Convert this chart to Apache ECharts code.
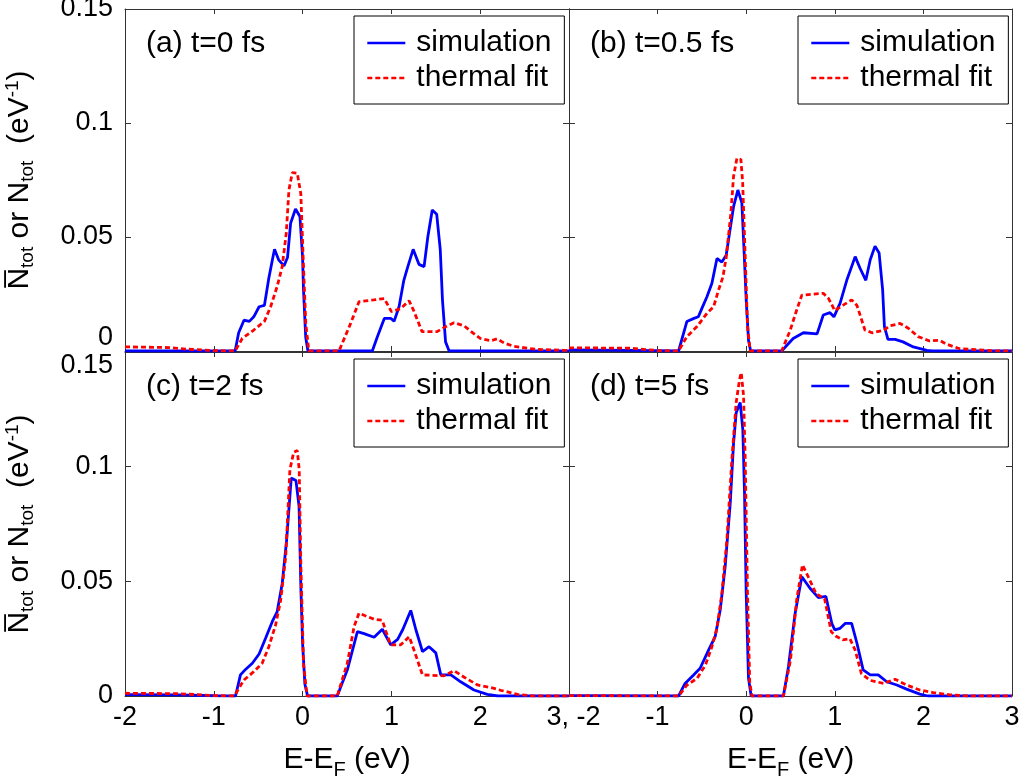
<!DOCTYPE html>
<html>
<head>
<meta charset="utf-8">
<script src="https://cdn.jsdelivr.net/npm/echarts@6/dist/echarts.min.js"></script>
<style>
html, body { margin: 0; padding: 0; background: #fff; }
#chart { width: 1020px; height: 780px; }
</style>
</head>
<body>
<div id="chart"></div>
<script>
// 数据: [E-EF (eV), N (eV^-1)]
var panelTitles = ['(a) t=0 fs', '(b) t=0.5 fs', '(c) t=2 fs', '(d) t=5 fs'];
var seriesNames = ['simulation', 'thermal fit'];
var xTicks = [-2, -1, 0, 1, 2, 3];
var yTicks = [0, 0.05, 0.1, 0.15];

var simA = [[-2,0],[-0.76,0],[-0.72,0.008],[-0.66,0.0135],[-0.6,0.013],[-0.55,0.015],[-0.49,0.0194],[-0.43,0.02],[-0.38,0.032],[-0.34,0.04],[-0.316,0.0446],[-0.27,0.04],[-0.21,0.0373],[-0.17,0.041],[-0.135,0.056],[-0.08,0.0623],[-0.03,0.059],[0.0,0.041],[0.01,0.027],[0.035,0.006],[0.06,0],[0.785,0],[0.84,0.006],[0.92,0.0143],[0.995,0.0143],[1.03,0.013],[1.086,0.0194],[1.14,0.031],[1.185,0.037],[1.245,0.0446],[1.31,0.038],[1.368,0.037],[1.41,0.05],[1.46,0.0618],[1.51,0.06],[1.55,0.0446],[1.575,0.0224],[1.61,0.004],[1.65,0],[3,0]];
var fitA = [[-2,0.0018],[-1.5,0.0015],[-1.3,0.0008],[-1.0,0.0002],[-0.76,0],[-0.68,0.0055],[-0.55,0.0092],[-0.43,0.013],[-0.36,0.0194],[-0.285,0.0285],[-0.23,0.037],[-0.184,0.0516],[-0.154,0.0706],[-0.116,0.0782],[-0.06,0.078],[-0.02,0.069],[0.01,0.037],[0.036,0.012],[0.07,0],[0.41,0],[0.54,0.012],[0.635,0.0216],[0.80,0.0224],[0.92,0.023],[1.0,0.0173],[1.1,0.0185],[1.2,0.022],[1.25,0.0178],[1.345,0.0085],[1.515,0.0085],[1.61,0.0107],[1.705,0.0124],[1.82,0.011],[1.89,0.0088],[2.0,0.0055],[2.12,0.0045],[2.19,0.0053],[2.27,0.0035],[2.38,0.002],[2.64,0.0007],[2.94,0.0003],[3,0.0002]];

var simB = [[-2,0.0005],[-1.3,0.0003],[-0.763,0],[-0.67,0.0129],[-0.59,0.0143],[-0.54,0.015],[-0.5,0.0187],[-0.443,0.0238],[-0.387,0.0297],[-0.33,0.0406],[-0.275,0.039],[-0.226,0.042],[-0.18,0.0538],[-0.143,0.0633],[-0.094,0.0706],[-0.049,0.065],[-0.023,0.043],[0.0,0.0225],[0.026,0.0047],[0.05,0],[0.40,0],[0.53,0.0055],[0.646,0.008],[0.80,0.0075],[0.87,0.0158],[0.946,0.0168],[0.99,0.015],[1.06,0.021],[1.135,0.031],[1.23,0.0414],[1.285,0.0363],[1.35,0.031],[1.40,0.040],[1.454,0.046],[1.50,0.043],[1.54,0.0268],[1.56,0.0107],[1.60,0.0051],[1.68,0.0051],[1.77,0.004],[1.886,0.0018],[2.04,0.0003],[2.1,0],[3,0]];
var fitB = [[-2,0.0014],[-1.3,0.0012],[-1.0,0.0002],[-0.763,0],[-0.67,0.0063],[-0.556,0.0107],[-0.443,0.0165],[-0.368,0.0194],[-0.31,0.027],[-0.263,0.0324],[-0.226,0.041],[-0.173,0.0604],[-0.143,0.0765],[-0.105,0.0845],[-0.06,0.084],[-0.04,0.074],[-0.011,0.041],[0.015,0.011],[0.045,0],[0.40,0],[0.496,0.009],[0.57,0.018],[0.628,0.0245],[0.87,0.0253],[0.93,0.023],[1.0,0.0177],[1.09,0.020],[1.19,0.0224],[1.25,0.020],[1.34,0.0092],[1.42,0.008],[1.55,0.009],[1.62,0.011],[1.736,0.0121],[1.83,0.01],[1.94,0.0063],[2.07,0.0044],[2.18,0.0047],[2.26,0.003],[2.41,0.001],[2.78,0.0001],[3,0]];

var simC = [[-2,0.0006],[-1.4,0.0005],[-1.0,0.0001],[-0.755,0],[-0.70,0.0092],[-0.64,0.0117],[-0.566,0.0143],[-0.49,0.0183],[-0.417,0.0252],[-0.342,0.0324],[-0.286,0.0368],[-0.229,0.0492],[-0.18,0.068],[-0.128,0.095],[-0.075,0.094],[-0.04,0.0827],[-0.019,0.0463],[0.0,0.023],[0.026,0.0051],[0.056,0],[0.39,0],[0.504,0.0114],[0.617,0.0281],[0.692,0.0272],[0.805,0.0256],[0.898,0.0291],[0.992,0.0223],[1.07,0.0247],[1.13,0.0291],[1.218,0.0373],[1.275,0.029],[1.35,0.0194],[1.424,0.0215],[1.50,0.0188],[1.556,0.0092],[1.67,0.0092],[1.78,0.0062],[1.93,0.0026],[2.08,0.0007],[2.2,0],[3,0]];
var fitC = [[-2,0.0012],[-1.4,0.001],[-1.0,0.0002],[-0.77,0],[-0.66,0.007],[-0.55,0.0106],[-0.455,0.0143],[-0.38,0.0215],[-0.304,0.031],[-0.248,0.0415],[-0.19,0.0608],[-0.143,0.0987],[-0.10,0.1063],[-0.06,0.107],[-0.038,0.0987],[-0.02,0.058],[0.01,0.014],[0.05,0],[0.39,0],[0.504,0.0143],[0.58,0.0303],[0.635,0.0361],[0.73,0.0346],[0.805,0.0335],[0.898,0.033],[0.935,0.0285],[0.992,0.0223],[1.105,0.0223],[1.2,0.0259],[1.255,0.020],[1.35,0.0092],[1.59,0.0088],[1.706,0.011],[1.82,0.0082],[1.97,0.0048],[2.12,0.0037],[2.23,0.0025],[2.42,0.0007],[2.6,0],[3,0]];

var simD = [[-2,0.0002],[-0.763,0],[-0.69,0.0055],[-0.594,0.0092],[-0.52,0.0121],[-0.425,0.020],[-0.35,0.0259],[-0.293,0.0376],[-0.237,0.0565],[-0.18,0.0841],[-0.143,0.110],[-0.113,0.1235],[-0.068,0.128],[-0.038,0.116],[-0.019,0.0885],[0.0,0.0448],[0.026,0.0077],[0.056,0],[0.42,0],[0.477,0.0128],[0.552,0.036],[0.628,0.052],[0.72,0.047],[0.815,0.0429],[0.9,0.0434],[0.966,0.0317],[1.0,0.0288],[1.06,0.0295],[1.12,0.0317],[1.19,0.0317],[1.25,0.023],[1.32,0.0114],[1.40,0.0092],[1.49,0.0092],[1.586,0.0062],[1.70,0.0048],[1.81,0.003],[1.96,0.0008],[2.05,0],[3,0]];
var fitD = [[-2,0.0002],[-0.763,0],[-0.67,0.0047],[-0.555,0.0077],[-0.46,0.0135],[-0.387,0.0215],[-0.33,0.0295],[-0.274,0.0448],[-0.218,0.068],[-0.162,0.103],[-0.113,0.128],[-0.075,0.138],[-0.056,0.141],[-0.03,0.131],[-0.011,0.103],[0.015,0.0448],[0.04,0.006],[0.065,0],[0.42,0],[0.50,0.0157],[0.57,0.042],[0.635,0.0572],[0.70,0.052],[0.79,0.0445],[0.885,0.0424],[0.96,0.028],[1.02,0.0259],[1.09,0.0245],[1.17,0.025],[1.23,0.020],[1.30,0.0098],[1.40,0.0068],[1.55,0.0055],[1.68,0.0073],[1.81,0.0048],[1.96,0.0026],[2.11,0.0015],[2.3,0.0005],[2.5,0],[3,0]];

var simData = [simA, simB, simC, simD];
var fitData = [fitA, fitB, fitC, fitD];

(function(){

var chart = echarts.init(document.getElementById('chart'));
var FONT = '"Liberation Sans", Arial, sans-serif';
var frame = '#333';

// 网格位置 (outerBoundsMode none: 不因轴名称缩小网格)
var grids = [
    {left: 125, top: 9, width: 444, height: 342, outerBoundsMode: 'none'},
    {left: 569, top: 9, width: 443, height: 342, outerBoundsMode: 'none'},
    {left: 125, top: 352, width: 444, height: 344, outerBoundsMode: 'none'},
    {left: 569, top: 352, width: 443, height: 344, outerBoundsMode: 'none'}
];

var yName = '{n|N\u0305}{s|tot}{n| or N}{s|tot}{n|  (eV}{p|-1}{n|)}';
var xName = '{n|E-E}{f|F}{n| (eV)}';
var nameRich = {
    n: {fontSize: 30, lineHeight: 34, fontFamily: FONT, color: '#000'},
    s: {fontSize: 19, lineHeight: 19, fontFamily: FONT, color: '#000', verticalAlign: 'bottom'},
    f: {fontSize: 20, lineHeight: 20, fontFamily: FONT, color: '#000', verticalAlign: 'bottom', padding: [0, 0, -3, 0]},
    p: {fontSize: 19, lineHeight: 19, fontFamily: FONT, color: '#000', verticalAlign: 'top'}
};

var xAxes = [], yAxes = [], series = [], legends = [], texts = [];

grids.forEach(function(g, i){
    var bottomRow = i >= 2;
    var leftCol = (i % 2) === 0;

    xAxes.push({
        type: 'value', gridIndex: i, position: 'bottom',
        min: xTicks[0], max: xTicks[xTicks.length - 1], interval: 1,
        axisLine: {show: true, onZero: false, lineStyle: {color: frame, width: 1}},
        axisTick: {show: true, inside: true, length: 5, lineStyle: {color: frame}},
        splitLine: {show: false},
        axisLabel: {
            show: bottomRow, fontSize: 27, fontFamily: FONT, color: '#000', margin: 8,
            alignMinLabel: leftCol ? 'center' : 'left',
            alignMaxLabel: leftCol ? 'right' : 'center',
            formatter: function(v){
                if (leftCol && v === 3) return '3,';
                if (!leftCol && v === -2) return ' -2';
                return String(v);
            }
        },
        name: bottomRow ? xName : '',
        nameLocation: 'middle', nameGap: 47,
        nameTextStyle: {rich: nameRich}
    });
    xAxes.push({
        type: 'value', gridIndex: i, position: 'top',
        min: xTicks[0], max: xTicks[xTicks.length - 1], interval: 1,
        axisLine: {show: true, onZero: false, lineStyle: {color: frame, width: 1}},
        axisTick: {show: true, inside: true, length: 5, lineStyle: {color: frame}},
        splitLine: {show: false},
        axisLabel: {show: false}
    });

    yAxes.push({
        type: 'value', gridIndex: i, position: 'left',
        min: yTicks[0], max: yTicks[yTicks.length - 1], interval: 0.05,
        axisLine: {show: true, onZero: false, lineStyle: {color: frame, width: 1}},
        axisTick: {show: true, inside: true, length: 6, lineStyle: {color: frame}},
        splitLine: {show: false},
        axisLabel: {
            show: leftCol, fontSize: 27, fontFamily: FONT, color: '#000', margin: 12,
            verticalAlignMinLabel: bottomRow ? 'middle' : 'bottom',
            verticalAlignMaxLabel: bottomRow ? 'top' : 'middle'
        },
        name: leftCol ? yName : '',
        nameLocation: 'middle', nameRotate: 90, nameGap: 88,
        nameTextStyle: {rich: nameRich}
    });
    yAxes.push({
        type: 'value', gridIndex: i, position: 'right',
        min: yTicks[0], max: yTicks[yTicks.length - 1], interval: 0.05,
        axisLine: {show: true, onZero: false, lineStyle: {color: frame, width: 1}},
        axisTick: {show: true, inside: true, length: 6, lineStyle: {color: frame}},
        splitLine: {show: false},
        axisLabel: {show: false}
    });

    series.push({
        name: seriesNames[0], type: 'line',
        xAxisIndex: i * 2, yAxisIndex: i * 2,
        data: simData[i],
        symbol: 'none', showSymbol: false, clip: true,
        lineStyle: {color: '#0000ff', width: 2.8},
        itemStyle: {color: '#0000ff'},
        z: 3
    });
    series.push({
        name: seriesNames[1], type: 'line',
        xAxisIndex: i * 2, yAxisIndex: i * 2,
        data: fitData[i],
        symbol: 'none', showSymbol: false, clip: true,
        lineStyle: {color: '#ff0000', width: 2.8, type: [5, 3]},
        itemStyle: {color: '#ff0000'},
        z: 4
    });

    legends.push({
        data: seriesNames,
        orient: 'vertical',
        left: g.left + 229,
        top: g.top + 7,
        padding: [12, 13, 11, 12],
        itemGap: 5,
        itemWidth: 38,
        itemHeight: 14,
        backgroundColor: '#fff',
        borderColor: '#000',
        borderWidth: 1,
        borderRadius: 0,
        selectedMode: false,
        itemStyle: {opacity: 0, color: 'transparent', borderColor: 'transparent', borderWidth: 0},
        lineStyle: {width: 2.6, opacity: 1},
        textStyle: {fontSize: 30, lineHeight: 30, fontFamily: FONT, color: '#000', padding: [0, 0, 0, 6]}
    });

    texts.push({
        type: 'text',
        left: g.left + 21,
        top: g.top + 20,
        style: {text: panelTitles[i], fontSize: 30, fontFamily: FONT, fill: '#000'}
    });
});

var option = {
    animation: false,
    backgroundColor: '#fff',
    grid: grids,
    xAxis: xAxes,
    yAxis: yAxes,
    legend: legends,
    graphic: texts,
    series: series
};

chart.setOption(option);
})();
</script>
</body>
</html>
